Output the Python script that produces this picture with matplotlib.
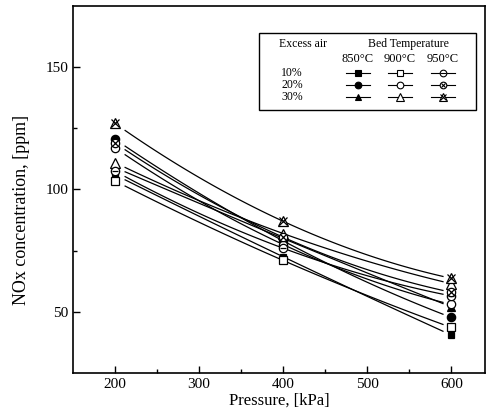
import numpy as np
import matplotlib
matplotlib.use("Agg")
import matplotlib.pyplot as plt
from matplotlib.lines import Line2D
from matplotlib.patches import Rectangle

plt.rcParams['font.family'] = ['Liberation Serif', 'DejaVu Serif']

pressure = [200, 400, 600]
temperatures = ["850°C", "900°C", "950°C"]
excess_air = ["10%", "20%", "30%"]

# NOx [ppm] at 200, 400, 600 kPa
nox_850_10 = [106.0, 72.5, 40.5]
nox_850_20 = [120.5, 79.0, 47.7]
nox_850_30 = [109.0, 80.0, 52.0]
nox_900_10 = [103.5, 71.0, 43.6]
nox_900_20 = [117.0, 77.5, 53.0]
nox_900_30 = [111.0, 82.0, 61.5]
nox_950_10 = [107.5, 76.0, 56.5]
nox_950_20 = [119.0, 80.5, 58.0]
nox_950_30 = [127.0, 87.0, 63.7]

series = {
    ("850°C", "10%"): nox_850_10,
    ("850°C", "20%"): nox_850_20,
    ("850°C", "30%"): nox_850_30,
    ("900°C", "10%"): nox_900_10,
    ("900°C", "20%"): nox_900_20,
    ("900°C", "30%"): nox_900_30,
    ("950°C", "10%"): nox_950_10,
    ("950°C", "20%"): nox_950_20,
    ("950°C", "30%"): nox_950_30,
}

# marker styles: list of (marker, facecolor, size)
styles = {
    ("850°C", "10%"): [("s", "black", 5)],
    ("850°C", "20%"): [("o", "black", 6)],
    ("850°C", "30%"): [("^", "black", 6)],
    ("900°C", "10%"): [("s", "white", 5.5)],
    ("900°C", "20%"): [("o", "white", 6)],
    ("900°C", "30%"): [("^", "white", 6.5)],
    ("950°C", "10%"): [("o", "white", 6), ("_", "black", 5)],
    ("950°C", "20%"): [("o", "white", 6), ("x", "black", 4)],
    ("950°C", "30%"): [("^", "white", 6.5), ("x", "black", 6)],
}

fig = plt.figure(figsize=(4.88, 4.2), dpi=100)
ax = fig.add_axes([73/488, 1-373/420, 412/488, 367/420])

xfit = np.linspace(212, 590, 100)
for key, vals in series.items():
    coef = np.polyfit(pressure, vals, 2)
    ax.plot(xfit, np.polyval(coef, xfit), color="black", lw=0.9)
    for m, fc, s in styles[key]:
        ax.plot(pressure, vals, linestyle="none", marker=m, markersize=s,
                markerfacecolor=fc, markeredgecolor="black", markeredgewidth=0.9)

ax.set_xlim(150, 640)
ax.set_ylim(25, 175)
ax.set_xticks([200, 300, 400, 500, 600])
ax.set_xticks([250, 350, 450, 550], minor=True)
ax.set_yticks([50, 100, 150])
ax.set_yticks([75, 125], minor=True)
ax.tick_params(which="both", direction="in", labelsize=11, width=1.0)
ax.tick_params(which="major", length=5)
ax.tick_params(which="minor", length=3)
for sp in ax.spines.values():
    sp.set_linewidth(1.2)
ax.set_xlabel("Pressure, [kPa]", fontsize=12, labelpad=1)
ax.set_ylabel("NOx concentration, [ppm]", fontsize=13)
ax.yaxis.set_label_coords(-0.104, 0.445)

# custom legend table
def fx(x):
    return (x - 73) / 412
def fy(y):
    return (373 - y) / 367

tr = ax.transAxes
ax.add_patch(Rectangle((fx(259), fy(110)), fx(476) - fx(259), fy(33) - fy(110),
                       transform=tr, facecolor="white", edgecolor="black", lw=1.0, zorder=5))
fs = 8.5
ax.text(fx(303), fy(44), "Excess air", transform=tr, ha="center", va="center", fontsize=fs, zorder=6)
ax.text(fx(408), fy(44), "Bed Temperature", transform=tr, ha="center", va="center", fontsize=fs, zorder=6)
col_x = [358, 400, 443]
row_y = [73, 85, 97]
for t, cx in zip(temperatures, col_x):
    ax.text(fx(cx), fy(59), t, transform=tr, ha="center", va="center", fontsize=fs + 0.5, zorder=6)
for a, ry in zip(excess_air, row_y):
    ax.text(fx(292), fy(ry), a, transform=tr, ha="center", va="center", fontsize=fs, zorder=6)
for t, cx in zip(temperatures, col_x):
    for a, ry in zip(excess_air, row_y):
        ax.add_line(Line2D([fx(cx - 12), fx(cx + 12)], [fy(ry), fy(ry)], transform=tr,
                           color="black", lw=0.8, zorder=6))
        for m, fc, s in styles[(t, a)]:
            ax.add_line(Line2D([fx(cx)], [fy(ry)], transform=tr, linestyle="none",
                               marker=m, markersize=s * 0.8, markerfacecolor=fc,
                               markeredgecolor="black", markeredgewidth=0.8, zorder=7))

fig.savefig("out.png", dpi=100)
